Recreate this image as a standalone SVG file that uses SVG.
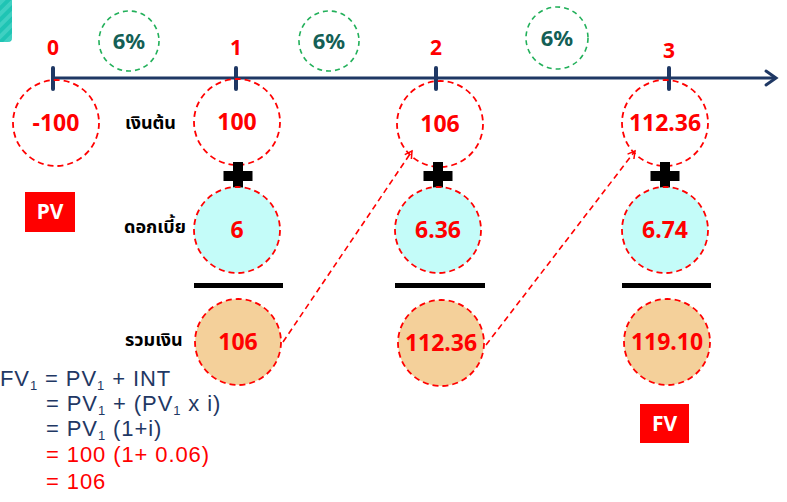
<svg xmlns="http://www.w3.org/2000/svg" width="787" height="502" viewBox="0 0 787 502">
<style>
.num{font-family:"Noto Sans","Liberation Sans",sans-serif;font-weight:bold;font-size:23px;fill:#ff0000;text-anchor:middle}
.idx{font-family:"Noto Sans","Liberation Sans",sans-serif;font-weight:bold;font-size:21px;fill:#ff0000;text-anchor:middle}
.pct{font-family:"Noto Sans","Liberation Sans",sans-serif;font-weight:bold;font-size:22px;fill:#145f56;text-anchor:middle}
.th{font-family:"Noto Sans Thai","Noto Sans","DejaVu Sans",sans-serif;font-weight:bold;font-size:18px;fill:#000}
.box{font-family:"Noto Sans","Liberation Sans",sans-serif;font-weight:bold;font-size:21px;fill:#fff;text-anchor:middle}
.f{font-family:"Liberation Sans",sans-serif;font-size:22px;letter-spacing:0.9px;fill:#1f3864}
.fr{font-family:"Liberation Sans",sans-serif;font-size:22px;letter-spacing:0.9px;fill:#ff0000}
.rc{stroke:#ff0000;stroke-width:1.8;stroke-dasharray:6 4}
.gc{fill:none;stroke:#22b05a;stroke-width:1.6;stroke-dasharray:5 4}
.bar{fill:#000}
.tick{stroke:#1f3864;stroke-width:4;stroke-linecap:round}
</style>
<defs>
<pattern id="stripe" width="8" height="8" patternUnits="userSpaceOnUse" patternTransform="rotate(45)">
<rect width="8" height="8" fill="#1fc4b4"/>
<rect width="4" height="8" fill="#3fd0c2"/>
</pattern>
<marker id="ah" markerWidth="10" markerHeight="10" refX="8" refY="5" orient="auto" markerUnits="userSpaceOnUse">
<path d="M1,1 L8,5 L1,9" fill="none" stroke="#ff0000" stroke-width="1.5"/>
</marker>
<g id="plus"><rect x="-5" y="-14" width="10" height="28"/><rect x="-14.5" y="-5" width="29" height="10"/></g>
</defs>
<rect width="787" height="502" fill="#fff"/>
<path d="M0,0 H12 V38 Q12,42 8,42 H0 Z" fill="url(#stripe)"/>

<g id="timeline">
<line x1="53" y1="78" x2="774" y2="78" stroke="#1f3864" stroke-width="3"/>
<path d="M766,71 L776,78 L766,85" fill="none" stroke="#1f3864" stroke-width="3" stroke-linecap="round"/>
<line class="tick" x1="53" y1="68" x2="53" y2="89"/>
<line class="tick" x1="236" y1="68" x2="236" y2="89"/>
<line class="tick" x1="436" y1="68" x2="436" y2="89"/>
<line class="tick" x1="669" y1="68" x2="669" y2="89"/>
<text class="idx" x="53" y="55">0</text>
<text class="idx" x="236" y="55">1</text>
<text class="idx" x="436" y="55">2</text>
<text class="idx" x="669" y="58">3</text>
</g>

<g id="rate1"><circle class="gc" cx="129" cy="41" r="30"/><text class="pct" x="129" y="49">6%</text></g>
<g id="rate2"><circle class="gc" cx="329" cy="41" r="30"/><text class="pct" x="329" y="49">6%</text></g>
<g id="rate3"><circle class="gc" cx="557" cy="38" r="31"/><text class="pct" x="557" y="46">6%</text></g>

<g id="labels">
<text class="th" x="125" y="129">เงินต้น</text>
<text class="th" x="124" y="233">ดอกเบี้ย</text>
<text class="th" x="125" y="346">รวมเงิน</text>
</g>

<g id="p0"><circle class="rc" cx="56" cy="123" r="43" fill="none"/><text class="num" x="56" y="131">-100</text></g>
<g id="p1"><circle class="rc" cx="237" cy="122" r="43" fill="none"/><text class="num" x="237" y="130">100</text></g>
<g id="p2"><circle class="rc" cx="440" cy="124" r="43" fill="none"/><text class="num" x="440" y="132">106</text></g>
<g id="p3"><circle class="rc" cx="665" cy="123" r="43" fill="none"/><text class="num" x="665" y="131">112.36</text></g>

<use href="#plus" x="238" y="176"/>
<use href="#plus" x="438" y="176"/>
<use href="#plus" x="665" y="176"/>

<g id="i1"><circle class="rc" cx="237" cy="230" r="43" fill="#c4fcf9"/><text class="num" x="237" y="238">6</text></g>
<g id="i2"><circle class="rc" cx="438" cy="230" r="43" fill="#c4fcf9"/><text class="num" x="438" y="238">6.36</text></g>
<g id="i3"><circle class="rc" cx="665" cy="230" r="43" fill="#c4fcf9"/><text class="num" x="665" y="238">6.74</text></g>

<rect class="bar" x="194" y="283" width="89" height="5"/>
<rect class="bar" x="395" y="283" width="90" height="5"/>
<rect class="bar" x="622" y="283" width="89" height="5"/>

<g id="t1"><circle class="rc" cx="238" cy="342" r="43" fill="#f4d09a"/><text class="num" x="238" y="350">106</text></g>
<g id="t2"><circle class="rc" cx="441" cy="343" r="43" fill="#f4d09a"/><text class="num" x="441" y="351">112.36</text></g>
<g id="t3"><circle class="rc" cx="667" cy="342" r="43" fill="#f4d09a"/><text class="num" x="667" y="350">119.10</text></g>

<g id="connectors">
<line x1="283" y1="342" x2="412" y2="151" stroke="#ff0000" stroke-width="1.6" stroke-dasharray="6 4" marker-end="url(#ah)"/>
<line x1="486" y1="345" x2="635" y2="151" stroke="#ff0000" stroke-width="1.6" stroke-dasharray="6 4" marker-end="url(#ah)"/>
</g>

<g id="pv"><rect x="25" y="192" width="50" height="40" fill="#ff0000"/><text class="box" x="50" y="219">PV</text></g>
<g id="fv"><rect x="640" y="404" width="49" height="39" fill="#ff0000"/><text class="box" x="664.5" y="431">FV</text></g>

<g id="formula">
<text class="f" x="0" y="386">FV<tspan font-size="13" dy="4">1</tspan><tspan dy="-4"> = PV</tspan><tspan font-size="13" dy="4">1</tspan><tspan dy="-4"> + INT</tspan></text>
<text class="f" x="46" y="411">= PV<tspan font-size="13" dy="4">1</tspan><tspan dy="-4"> + (PV</tspan><tspan font-size="13" dy="4">1</tspan><tspan dy="-4"> x i)</tspan></text>
<text class="f" x="46" y="436">= PV<tspan font-size="13" dy="4">1</tspan><tspan dy="-4"> (1+i)</tspan></text>
<text class="fr" x="46" y="462">= 100 (1+ 0.06)</text>
<text class="fr" x="46" y="489">= 106</text>
</g>
</svg>
